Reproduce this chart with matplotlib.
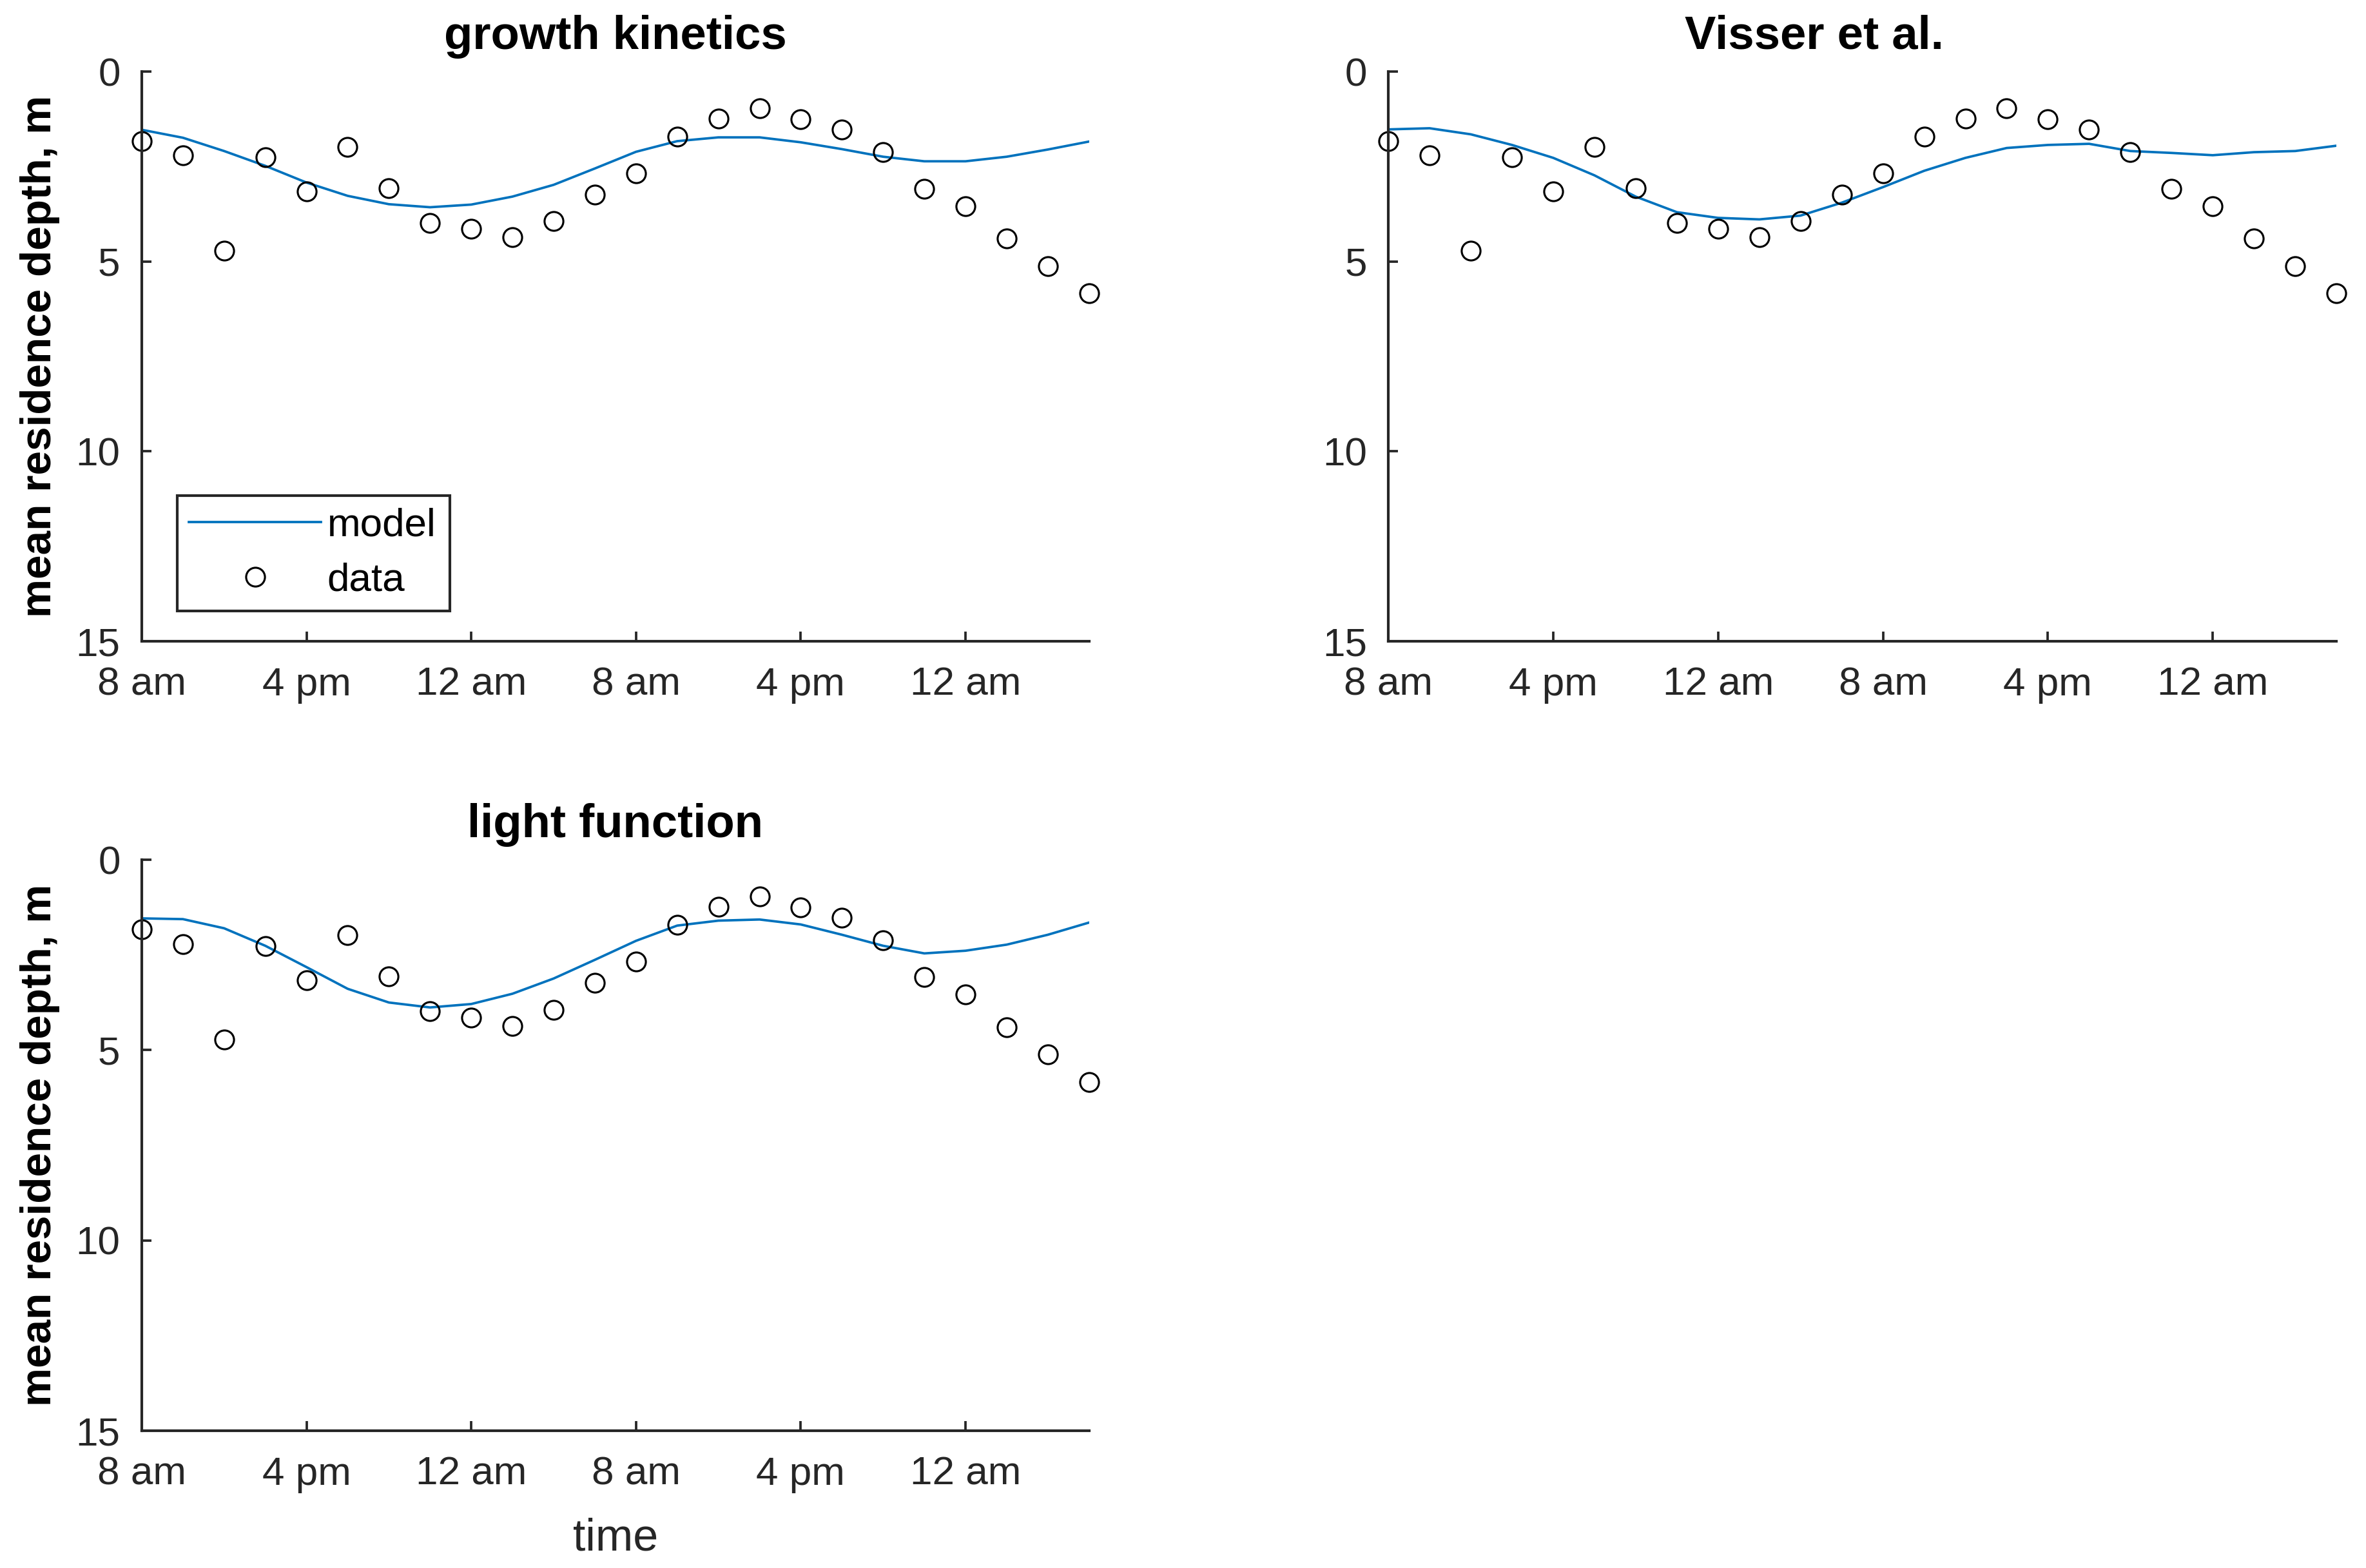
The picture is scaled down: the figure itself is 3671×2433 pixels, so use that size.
import numpy as np
import matplotlib
matplotlib.use('Agg')
import matplotlib.pyplot as plt

plt.rcParams['font.family'] = ['Liberation Sans', 'DejaVu Sans']

# hours since 8 am, every 2 h
hours = [0, 2, 4, 6, 8, 10, 12, 14, 16, 18, 20, 22, 24, 26, 28, 30, 32, 34, 36, 38, 40, 42, 44, 46]

# observed mean residence depth (m), same in all panels
data_depth = [1.83, 2.21, 4.72, 2.26, 3.16, 1.98, 3.06, 3.98, 4.14, 4.36, 3.94, 3.23,
              2.68, 1.71, 1.23, 0.97, 1.25, 1.52, 2.12, 3.08, 3.54, 4.40, 5.12, 5.84]

model_growth = [1.53, 1.74, 2.09, 2.48, 2.92, 3.27, 3.49, 3.57, 3.50, 3.29, 2.98, 2.55,
                2.11, 1.83, 1.73, 1.73, 1.86, 2.04, 2.24, 2.36, 2.36, 2.24, 2.05, 1.84]
model_visser = [1.52, 1.49, 1.65, 1.93, 2.27, 2.73, 3.29, 3.70, 3.85, 3.89, 3.79, 3.45,
                3.04, 2.61, 2.27, 2.01, 1.93, 1.90, 2.09, 2.14, 2.20, 2.12, 2.09, 1.95]
model_light = [1.54, 1.56, 1.80, 2.26, 2.82, 3.39, 3.75, 3.88, 3.79, 3.52, 3.12, 2.63,
               2.13, 1.73, 1.60, 1.57, 1.70, 1.97, 2.26, 2.46, 2.39, 2.23, 1.97, 1.65]

tick_hours = [0, 8, 16, 24, 32, 40]
tick_labels = ['8 am', '4 pm', '12 am', '8 am', '4 pm', '12 am']
depth_ticks = [0, 5, 10, 15]

titles = ['growth kinetics', 'Visser et al.', 'light function']
title_x = [0.5, 0.449, 0.5]
models = [model_growth, model_visser, model_light]

fig = plt.figure(figsize=(3671 / 300, 2433 / 300), dpi=300)
positions = [
    [0.0599, 0.591, 0.4004, 0.3633],
    [0.5868, 0.591, 0.4007, 0.3633],
    [0.0599, 0.0875, 0.4004, 0.3642],
]

blue = '#0072BD'
axcol = '#262626'

for i in range(3):
    ax = fig.add_axes(positions[i])
    ax.plot(hours, models[i], color=blue, lw=0.9, label='model')
    ax.plot(hours, data_depth, 'o', mfc='none', mec='black', ms=7, mew=0.75,
            label='data', clip_on=False)
    ax.set_xlim(0, 46)
    ax.set_ylim(15, 0)
    ax.set_xticks(tick_hours)
    ax.set_xticklabels(tick_labels)
    ax.set_yticks(depth_ticks)
    ax.spines['top'].set_visible(False)
    ax.spines['right'].set_visible(False)
    for s in ['left', 'bottom']:
        ax.spines[s].set_color(axcol)
        ax.spines[s].set_linewidth(1.0)
    ax.tick_params(direction='in', length=3.6, width=0.9, colors=axcol,
                   labelsize=14.9, labelcolor=axcol)
    ax.tick_params(axis='y', pad=8)
    ax.tick_params(axis='x', pad=9.5)
    ax.set_title(titles[i], fontsize=17.4, fontweight='bold', pad=8.5, x=title_x[i])
    if i != 1:
        ax.set_ylabel('mean residence depth, m', fontsize=16.2, fontweight='bold', labelpad=6)
    if i == 2:
        ax.set_xlabel('time', fontsize=16.8, color=axcol, labelpad=9)
    if i == 0:
        leg = ax.legend(loc='lower left', bbox_to_anchor=(0.0374, 0.053, 0.288, 0.205),
                        mode='expand', borderaxespad=0, fontsize=14.9, fancybox=False,
                        handlelength=3.3, handletextpad=0.15, borderpad=0.3,
                        labelspacing=0.45, framealpha=1)
        leg.get_frame().set_edgecolor(axcol)
        leg.get_frame().set_linewidth(1.0)

fig.savefig('out.png', dpi=300, facecolor='white')
